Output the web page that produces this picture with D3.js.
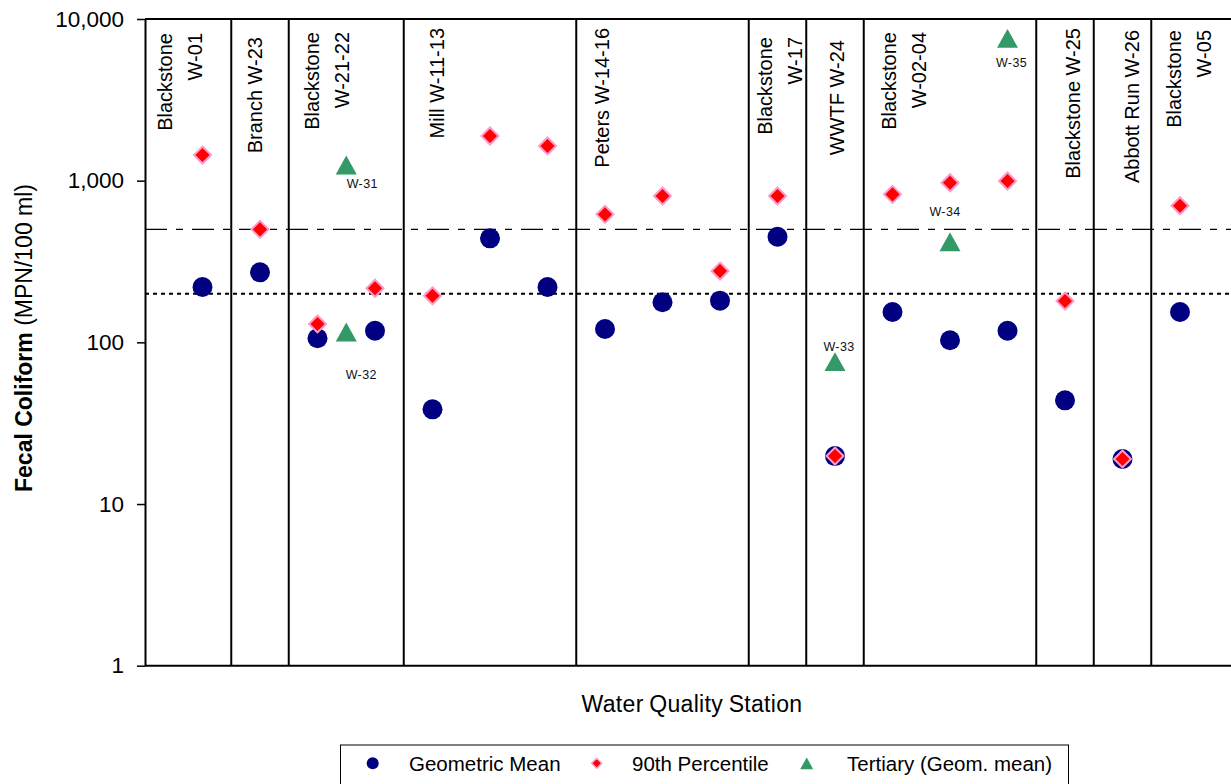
<!DOCTYPE html>
<html>
<head>
<meta charset="utf-8">
<script src="https://cdn.jsdelivr.net/npm/d3@7"></script>
<style>
  html, body { margin: 0; padding: 0; background: #fff; }
  svg { display: block; font-family: "Liberation Sans", Arial, sans-serif; }
</style>
</head>
<body>
<svg id="chart" width="1231" height="784"></svg>
<script>
// Sampling stations, in plotting order along the x axis
const stations = ["W-01", "W-23", "W-21", "W-22", "W-11", "W-12", "W-13", "W-14", "W-15",
                  "W-16", "W-17", "W-24", "W-02", "W-03", "W-04", "W-25", "W-26", "W-05"];

// Station groups (each label may be split over two lines) and how many stations each holds
const groupNames = [["Blackstone", "W-01"], ["Branch W-23"], ["Blackstone", "W-21-22"],
                    ["Mill W-11-13"], ["Peters W-14-16"], ["Blackstone", "W-17"],
                    ["WWTF W-24"], ["Blackstone", "W-02-04"], ["Blackstone W-25"],
                    ["Abbott Run W-26"], ["Blackstone", "W-05"]];
const groupSizes = [1, 1, 2, 3, 3, 1, 1, 3, 1, 1, 1];

// Fecal coliform, MPN/100 ml
const geoMean = [220, 271, 106, 118, 38.5, 440, 220, 121, 177, 181, 450, 19.8, 154, 103, 118, 43.8, 19, 154];
const pct90   = [1440, 500, 130, 216, 194, 1890, 1640, 619, 804, 276, 804, 19.8, 823, 971, 995, 180, 19, 700];

// Tertiary stations (geometric mean), placed on the station axis
const tertiaryNames  = ["W-31", "W-32", "W-33", "W-34", "W-35"];
const tertiaryPos    = [3.5, 3.5, 12, 14, 15];
const tertiaryValues = [1250, 116, 76, 419, 7590];

// Standards drawn as horizontal reference lines
const standardValues = [200, 500];

const yTicks = [1, 10, 100, 1000, 10000];

// ---- layout ----
const W = 1231, H = 784;
const plotLeft = 145, plotTop = 19, plotBottom = 665.7;
const step = 57.5;
const plotRight = plotLeft + step * (stations.length + 1);

// where each group label sits (x in station units, top end in px)
const groupLabelX   = [0.61, 1.91, 3.16, 5.07, 7.94, 11.04, 12.03, 13.2, 16.14, 17.16, 18.15];
const groupLabelTop = [33, 37, 32, 28, 28, 37, 40, 32, 28, 30, 30];
// offsets of the tertiary name tags from their markers
const tagOffsets = [[16, 19], [15, 43], [4, -15], [-5, -30], [4, 24]];

const colors = { mean: "#000080", pct: "#ff0000", pctEdge: "#ff99cc", tert: "#339966" };

const svg = d3.select("#chart");

const x = d3.scaleLinear().domain([0, stations.length + 1]).range([plotLeft, plotRight]);
const y = d3.scaleLog().domain([1, 10000]).range([plotBottom, plotTop]);

// custom marker shapes: square-on-corner diamond and flat-based triangle
const diamondType = {
  draw(ctx, size) {
    const r = Math.sqrt(size) / 2;
    ctx.moveTo(0, -r); ctx.lineTo(r, 0); ctx.lineTo(0, r); ctx.lineTo(-r, 0); ctx.closePath();
  }
};
const triangleType = {
  draw(ctx, size) {
    const w = Math.sqrt(size), h = w * 0.9;
    ctx.moveTo(0, -h / 2); ctx.lineTo(w / 2, h / 2); ctx.lineTo(-w / 2, h / 2); ctx.closePath();
  }
};

// ---- frame and group dividers ----
const frame = svg.append("g");
frame.append("line")
  .attr("x1", plotLeft).attr("x2", W).attr("y1", y(10000)).attr("y2", y(10000))
  .attr("stroke", "#000").attr("stroke-width", 2);
frame.append("line")
  .attr("x1", plotLeft).attr("x2", W).attr("y1", y(1)).attr("y2", y(1))
  .attr("stroke", "#000").attr("stroke-width", 2);

const dividerPos = Array.from(d3.cumsum(groupSizes)).slice(0, -1).map(c => c + 0.5);
frame.selectAll("line.divider").data(dividerPos).join("line")
  .attr("class", "divider")
  .attr("x1", d => x(d)).attr("x2", d => x(d))
  .attr("y1", y(10000)).attr("y2", y(1))
  .attr("stroke", "#000").attr("stroke-width", 2);

// ---- standards ----
const stdStyles = { 200: { dash: "4,4", width: 2 }, 500: { dash: "22,9,7,9", width: 1.2 } };
svg.append("g").selectAll("line").data(standardValues).join("line")
  .attr("x1", plotLeft).attr("x2", plotRight)
  .attr("y1", d => y(d)).attr("y2", d => y(d))
  .attr("stroke", "#000")
  .attr("stroke-width", d => stdStyles[d].width)
  .attr("stroke-dasharray", d => stdStyles[d].dash);

// ---- y axis ----
const yAxis = svg.append("g")
  .attr("transform", `translate(${plotLeft},0)`)
  .call(d3.axisLeft(y).tickValues(yTicks).tickFormat(d3.format(",")).tickSize(8).tickSizeOuter(0).tickPadding(13));
yAxis.select(".domain").attr("stroke", "#000").attr("stroke-width", 2);
yAxis.selectAll(".tick line").attr("stroke", "#000").attr("stroke-width", 1.5);
yAxis.selectAll(".tick text").attr("font-size", 22.5).attr("fill", "#000")
  .attr("font-family", "'Liberation Sans', Arial, sans-serif");

// y title
const yTitle = svg.append("text")
  .attr("transform", "translate(24,338) rotate(-90)")
  .attr("text-anchor", "middle").attr("dy", "0.35em")
  .attr("font-size", 23).attr("fill", "#000");
yTitle.append("tspan").attr("font-weight", "bold").text("Fecal Coliform");
yTitle.append("tspan").text(" (MPN/100 ml)");

// x title
svg.append("text")
  .attr("x", 692).attr("y", 712)
  .attr("text-anchor", "middle")
  .attr("font-size", 23).attr("word-spacing", "-1px").attr("letter-spacing", "0.3px").attr("fill", "#000")
  .text("Water Quality Station");

// ---- group labels ----
const glab = svg.append("g").attr("font-size", 20).attr("fill", "#000");
groupNames.forEach((lines, i) => {
  const cx = x(groupLabelX[i]);
  const n = lines.length;
  lines.forEach((t, j) => {
    const lx = cx + (j - (n - 1) / 2) * 30;
    glab.append("text")
      .attr("transform", `translate(${lx},${groupLabelTop[i]}) rotate(-90)`)
      .attr("text-anchor", "end").attr("dy", "0.35em")
      .text(t);
  });
});

// ---- markers ----
const meanSymbol = d3.symbol().type(d3.symbolCircle).size(Math.PI * 10 * 10);
const pctSymbol = d3.symbol().type(diamondType).size(17 * 17);
const tertSymbol = d3.symbol().type(triangleType).size(21 * 21);

svg.append("g").selectAll("path").data(geoMean).join("path")
  .attr("transform", (d, i) => `translate(${x(i + 1)},${y(d)})`)
  .attr("d", meanSymbol)
  .attr("fill", colors.mean);

svg.append("g").selectAll("path").data(pct90).join("path")
  .attr("transform", (d, i) => `translate(${x(i + 1)},${y(d)})`)
  .attr("d", pctSymbol)
  .attr("fill", colors.pct)
  .attr("stroke", colors.pctEdge).attr("stroke-width", 2);

const tert = svg.append("g");
tert.selectAll("path").data(tertiaryValues).join("path")
  .attr("transform", (d, i) => `translate(${x(tertiaryPos[i])},${y(d)})`)
  .attr("d", tertSymbol)
  .attr("fill", colors.tert);
tert.selectAll("text").data(tertiaryValues).join("text")
  .attr("x", (d, i) => x(tertiaryPos[i]) + tagOffsets[i][0])
  .attr("y", (d, i) => y(d) + tagOffsets[i][1])
  .attr("dy", "0.35em").attr("text-anchor", "middle")
  .attr("font-size", 12.5).attr("letter-spacing", "0.4px").attr("fill", "#111")
  .text((d, i) => tertiaryNames[i]);

// ---- legend ----
const legend = svg.append("g");
legend.append("rect")
  .attr("x", 340.5).attr("y", 745).attr("width", 728).attr("height", 60)
  .attr("fill", "#fff").attr("stroke", "#000").attr("stroke-width", 1);
const legendItems = [
  { label: "Geometric Mean", mx: 372.7, tx: 409,
    sym: d3.symbol().type(d3.symbolCircle).size(Math.PI * 36), fill: colors.mean },
  { label: "90th Percentile", mx: 596.7, tx: 632,
    sym: d3.symbol().type(diamondType).size(100), fill: colors.pct, stroke: colors.pctEdge },
  { label: "Tertiary (Geom. mean)", mx: 806.7, tx: 847,
    sym: d3.symbol().type(triangleType).size(13 * 13), fill: colors.tert }
];
legendItems.forEach(it => {
  legend.append("path")
    .attr("transform", `translate(${it.mx},763.3)`)
    .attr("d", it.sym)
    .attr("fill", it.fill)
    .attr("stroke", it.stroke || "none").attr("stroke-width", 1.5);
  legend.append("text")
    .attr("x", it.tx).attr("y", 770.5)
    .attr("font-size", 20.5).attr("fill", "#000")
    .text(it.label);
});
</script>
</body>
</html>
